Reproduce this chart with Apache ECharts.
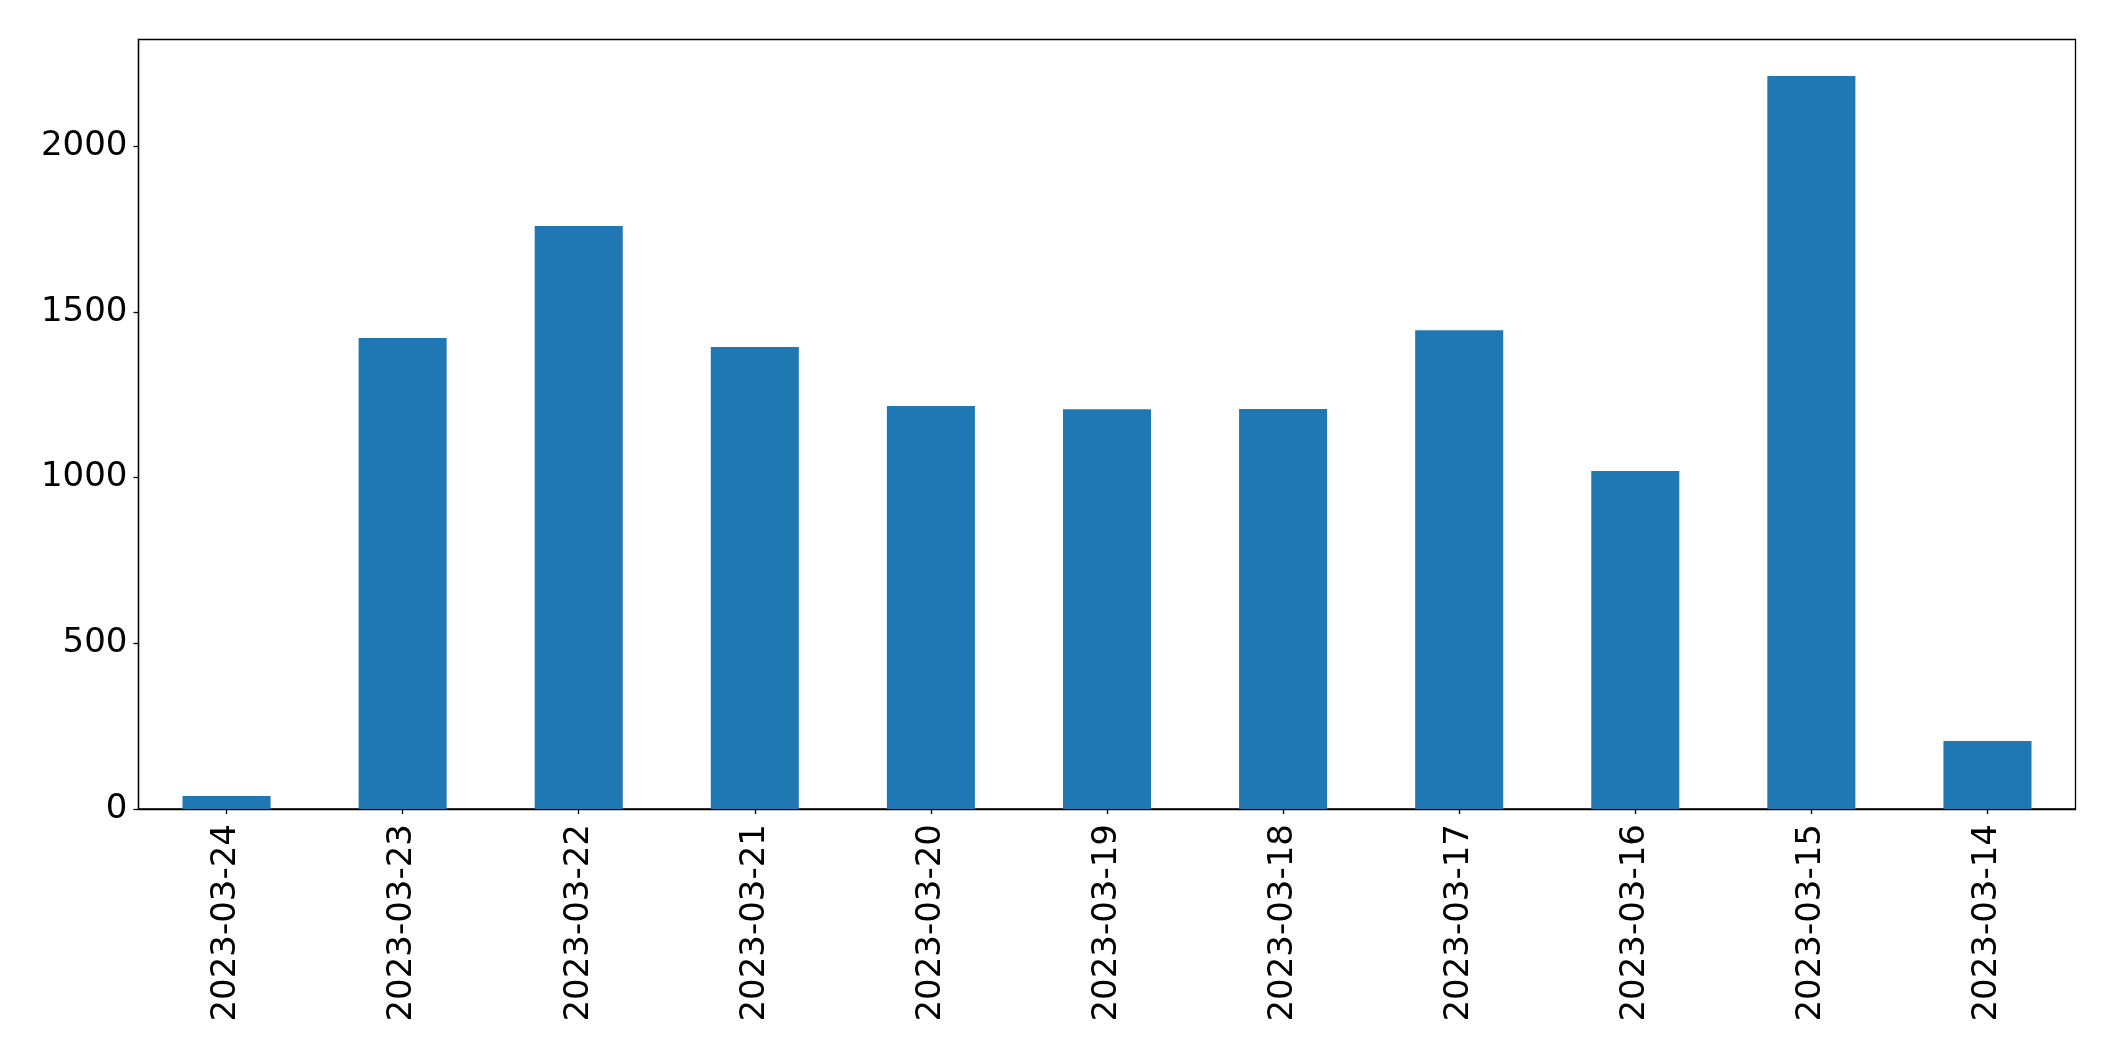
<!DOCTYPE html>
<html>
<head>
<meta charset="utf-8">
<script src="https://cdn.jsdelivr.net/npm/echarts@6/dist/echarts.min.js"></script>
<style>html,body{margin:0;padding:0;background:#fff;}#c{width:2115px;height:1061px;}</style>
</head>
<body>
<div id="c"></div>
<script>
const categories = ["2023-03-24","2023-03-23","2023-03-22","2023-03-21","2023-03-20","2023-03-19","2023-03-18","2023-03-17","2023-03-16","2023-03-15","2023-03-14"];
const values = [39, 1421, 1759, 1394, 1216, 1206, 1207, 1445, 1020, 2212, 205];
const yMin = 0, yMax = 2322, yInterval = 500;

const chart = echarts.init(document.getElementById('c'), null, {renderer: 'canvas'});
chart.setOption({
  animation: false,
  backgroundColor: '#ffffff',
  grid: {left: 138.5, right: 39.5, top: 39.5, bottom: 252, show: true, borderColor: '#000', borderWidth: 1.3, backgroundColor: 'transparent'},
  xAxis: {
    type: 'category', data: categories,
    axisLine: {show: true, lineStyle: {color: '#000', width: 1.3}},
    axisTick: {show: true, alignWithLabel: true, length: 5, lineStyle: {color: '#000', width: 1.3}},
    axisLabel: {rotate: 90, margin: 15, color: '#000', fontSize: 34, fontFamily: 'DejaVu Sans', interval: 0},
    splitLine: {show: false}
  },
  yAxis: {
    type: 'value', min: yMin, max: yMax, interval: yInterval,
    axisLine: {show: true, lineStyle: {color: '#000', width: 1.3}},
    axisTick: {show: true, length: 5, lineStyle: {color: '#000', width: 1.3}},
    axisLabel: {margin: 11, color: '#000', fontSize: 34, fontFamily: 'DejaVu Sans', showMaxLabel: false,
      formatter: function (v) { return String(v); }},
    splitLine: {show: false}
  },
  series: [{
    type: 'bar', data: values, barCategoryGap: '50%',
    itemStyle: {color: '#1f77b4'}
  }]
});
</script>
</body>
</html>
